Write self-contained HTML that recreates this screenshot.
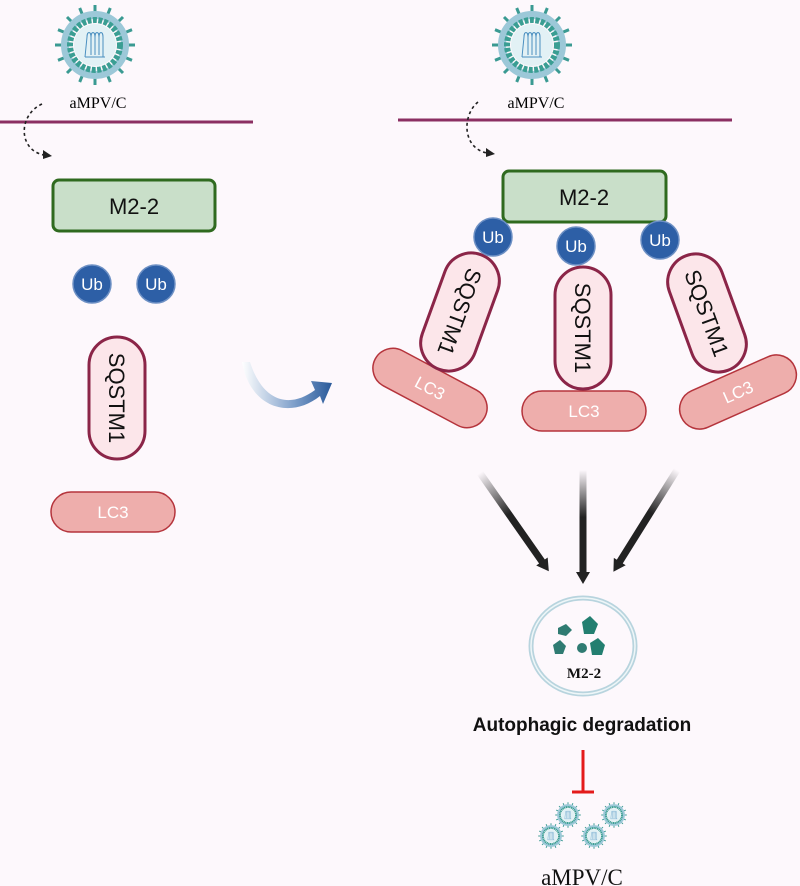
<!DOCTYPE html>
<html><head><meta charset="utf-8"><style>
html,body{margin:0;padding:0;background:#fdf8fc;}
svg{display:block}
.s{font-family:"Liberation Sans",sans-serif}
.r{font-family:"Liberation Serif",serif}
</style></head><body>
<svg width="800" height="886" viewBox="0 0 800 886" xmlns="http://www.w3.org/2000/svg">
<defs>
<g id="vir">
  <g stroke="#3a9a92" stroke-width="3">
    <line x1="0" y1="-30" x2="0" y2="-40"/><line x1="0" y1="30" x2="0" y2="40"/>
    <line x1="-30" y1="0" x2="-40" y2="0"/><line x1="30" y1="0" x2="40" y2="0"/>
    <line x1="21" y1="-21" x2="28" y2="-28"/><line x1="-21" y1="-21" x2="-28" y2="-28"/>
    <line x1="21" y1="21" x2="28" y2="28"/><line x1="-21" y1="21" x2="-28" y2="28"/>
    <line x1="11.5" y1="-27.7" x2="15.3" y2="-37"/><line x1="-11.5" y1="-27.7" x2="-15.3" y2="-37"/>
    <line x1="11.5" y1="27.7" x2="15.3" y2="37"/><line x1="-11.5" y1="27.7" x2="-15.3" y2="37"/>
    <line x1="27.7" y1="-11.5" x2="37" y2="-15.3"/><line x1="-27.7" y1="-11.5" x2="-37" y2="-15.3"/>
    <line x1="27.7" y1="11.5" x2="37" y2="15.3"/><line x1="-27.7" y1="11.5" x2="-37" y2="15.3"/>
  </g>
  <circle r="30" fill="none" stroke="#9cc8d8" stroke-width="8"/>
  <circle r="25" fill="none" stroke="#3a9e93" stroke-width="6" stroke-dasharray="4 1.5"/>
  <circle r="21" fill="#e2f1f5"/>
  <path d="M-10,12 L-8,-8 C-8,-14 -4,-14 -4,-8 L-4,10 M-4,-8 C-4,-14 0,-14 0,-8 L0,10 M0,-8 C0,-14 4,-14 4,-8 L4,10 M4,-8 C4,-14 8,-14 8,-8 L8,12 M-10,12 L10,12" fill="none" stroke="#4a8fc0" stroke-width="1"/>
</g>
<linearGradient id="ga" x1="0" y1="0" x2="0" y2="1"><stop offset="0" stop-color="#222" stop-opacity="0"/><stop offset="0.45" stop-color="#222"/><stop offset="1" stop-color="#222"/></linearGradient>
<linearGradient id="gb" x1="0" y1="0" x2="1" y2="0"><stop offset="0" stop-color="#fff"/><stop offset="0.6" stop-color="#7a9cc8"/><stop offset="1" stop-color="#2a5a9a"/></linearGradient>
<g id="sq"><rect x="-61" y="-28" width="122" height="56" rx="28" fill="#fce6ea" stroke="#8b2548" stroke-width="3"/><text x="0" y="8" text-anchor="middle" font-size="22" class="s" fill="#111">SQSTM1</text></g>
<g id="lc"><rect x="-62" y="-20" width="124" height="40" rx="20" fill="#eeaeac" stroke="#b5343c" stroke-width="1.5"/><text x="0" y="6" text-anchor="middle" font-size="17" class="s" fill="#fff">LC3</text></g>
<g id="ub"><circle r="19" fill="#2d5fa6" stroke="#6d90c4" stroke-width="1.5"/><text x="0" y="6" text-anchor="middle" font-size="17" class="s" fill="#fff">Ub</text></g>
</defs>

<!-- left -->
<use href="#vir" x="95" y="45"/>
<text x="98" y="108" text-anchor="middle" font-size="16" class="r">aMPV/C</text>
<line x1="0" y1="122" x2="253" y2="122" stroke="#8b2f62" stroke-width="3"/>
<path d="M42,104 C18,115 18,150 44,155" fill="none" stroke="#222" stroke-width="1.6" stroke-dasharray="3 3"/>
<path d="M43,150 L52,156 L43,159 Z" fill="#222"/>
<rect x="53" y="180" width="162" height="51" rx="6" fill="#c9dfc9" stroke="#2f6a1f" stroke-width="3"/>
<text x="134" y="214" text-anchor="middle" font-size="22" class="s" fill="#111">M2-2</text>
<use href="#ub" x="92" y="284"/><use href="#ub" x="156" y="284"/>
<use href="#sq" transform="translate(117,398) rotate(90)"/>
<use href="#lc" transform="translate(113,512)"/>

<!-- blue arrow -->
<path d="M250,362 C262,400 288,410 315,390 L311,381 L332,383 L323,404 L320,396 C290,420 250,408 242,362 Z" fill="url(#gb)"/>

<!-- right -->
<use href="#vir" x="532" y="45"/>
<text x="536" y="108" text-anchor="middle" font-size="16" class="r">aMPV/C</text>
<line x1="398" y1="120" x2="732" y2="120" stroke="#8b2f62" stroke-width="3"/>
<path d="M478,102 C462,115 462,148 487,153" fill="none" stroke="#222" stroke-width="1.6" stroke-dasharray="3 3"/>
<path d="M486,148 L495,154 L486,157 Z" fill="#222"/>
<rect x="503" y="171" width="163" height="51" rx="6" fill="#c9dfc9" stroke="#2f6a1f" stroke-width="3"/>
<text x="584" y="205" text-anchor="middle" font-size="22" class="s" fill="#111">M2-2</text>
<use href="#lc" transform="translate(430,388) rotate(28)"/>
<use href="#lc" transform="translate(584,411)"/>
<use href="#lc" transform="translate(738,392) rotate(-24)"/>
<use href="#sq" transform="translate(460,312) rotate(110)"/>
<use href="#sq" transform="translate(583,328) rotate(90)"/>
<use href="#sq" transform="translate(707,313) rotate(70)"/>
<use href="#ub" x="493" y="237"/><use href="#ub" x="576" y="246"/><use href="#ub" x="660" y="240"/>

<!-- black arrows -->
<g transform="translate(480,473) rotate(-35)"><rect x="-3.5" y="0" width="7" height="112" fill="url(#ga)"/><path d="M-7,108 L7,108 L0,120 Z" fill="#222"/></g>
<g transform="translate(583,470)"><rect x="-3.5" y="0" width="7" height="105" fill="url(#ga)"/><path d="M-7,102 L7,102 L0,114 Z" fill="#222"/></g>
<g transform="translate(677,470) rotate(32)"><rect x="-3.5" y="0" width="7" height="112" fill="url(#ga)"/><path d="M-7,108 L7,108 L0,120 Z" fill="#222"/></g>

<!-- vesicle -->
<ellipse cx="583" cy="646" rx="52" ry="48" fill="#fdf8fc" stroke="#b8d4de" stroke-width="5"/>
<ellipse cx="583" cy="646" rx="52" ry="48" fill="none" stroke="#eef6f8" stroke-width="1.5"/>
<path d="M558,628 L566,624 L572,630 L566,636 L558,634 Z" fill="#2f7b72"/>
<path d="M582,622 L590,616 L598,624 L594,634 L584,634 Z" fill="#237f70"/>
<path d="M553,645 L560,640 L566,646 L563,654 L555,654 Z" fill="#2f7b72"/>
<circle cx="582" cy="648" r="5" fill="#2f7b72"/>
<path d="M590,643 L598,638 L605,645 L602,655 L592,655 Z" fill="#237f70"/>
<text x="584" y="678" text-anchor="middle" font-size="15" class="r" font-weight="bold" fill="#111">M2-2</text>

<text x="582" y="731" text-anchor="middle" font-size="19" class="s" font-weight="bold" fill="#111">Autophagic degradation</text>
<line x1="583" y1="750" x2="583" y2="792" stroke="#e41b1b" stroke-width="3"/>
<line x1="572" y1="792" x2="594" y2="792" stroke="#e41b1b" stroke-width="3"/>
<use href="#vir" transform="translate(568,815) scale(0.32)"/>
<use href="#vir" transform="translate(614,815) scale(0.32)"/>
<use href="#vir" transform="translate(551,836) scale(0.32)"/>
<use href="#vir" transform="translate(594,836) scale(0.32)"/>
<text x="582" y="885" text-anchor="middle" font-size="23" class="r" fill="#111">aMPV/C</text>
</svg>
</body></html>
